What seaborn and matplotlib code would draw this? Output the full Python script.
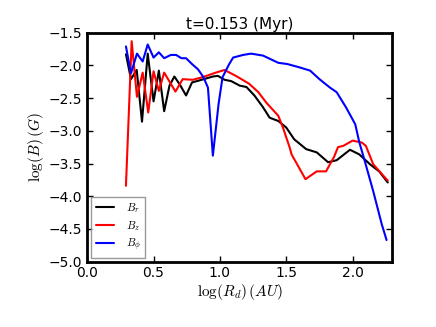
import pandas as pd
import numpy as np
import matplotlib
matplotlib.use("Agg")
import matplotlib.pyplot as plt
import seaborn as sns

sns.set_style("ticks", {"axes.edgecolor": "black", "text.color": "black",
                        "axes.labelcolor": "black", "xtick.color": "black",
                        "ytick.color": "black"})
plt.rcParams["font.family"] = ["DejaVu Sans"]
plt.rcParams["mathtext.fontset"] = "cm"
plt.rcParams["xtick.direction"] = "in"
plt.rcParams["ytick.direction"] = "in"

# values
br_x = [0.292, 0.33, 0.373, 0.413, 0.456, 0.50, 0.54, 0.58, 0.62, 0.657, 0.70, 0.745,
        0.79, 0.845, 0.896, 0.947, 0.985, 1.035, 1.085, 1.15, 1.20, 1.26, 1.325, 1.375,
        1.44, 1.50, 1.56, 1.65, 1.73, 1.815, 1.88, 1.98, 2.05, 2.13, 2.20, 2.265]
br_y = [-1.83, -2.21, -2.07, -2.86, -1.82, -2.55, -2.08, -2.70, -2.31, -2.17, -2.30, -2.46,
        -2.26, -2.23, -2.20, -2.17, -2.16, -2.22, -2.24, -2.31, -2.33, -2.46, -2.64, -2.80,
        -2.85, -2.95, -3.13, -3.28, -3.33, -3.48, -3.45, -3.29, -3.36, -3.51, -3.62, -3.79]

bz_x = [0.292, 0.335, 0.375, 0.418, 0.46, 0.50, 0.54, 0.58, 0.665, 0.72, 0.795, 0.87,
        0.97, 1.035, 1.12, 1.22, 1.29, 1.35, 1.44, 1.475, 1.525, 1.54, 1.645, 1.73,
        1.80, 1.86, 1.89, 1.93, 2.0, 2.07, 2.10, 2.155, 2.255, 2.265]
bz_y = [-3.84, -1.63, -2.48, -2.11, -2.72, -2.09, -2.39, -2.11, -2.40, -2.21, -2.22, -2.18,
        -2.11, -2.07, -2.16, -2.28, -2.41, -2.57, -2.77, -2.95, -3.25, -3.36, -3.74, -3.62,
        -3.62, -3.40, -3.25, -3.23, -3.15, -3.18, -3.23, -3.51, -3.74, -3.76]

bphi_x = [0.292, 0.33, 0.375, 0.418, 0.456, 0.50, 0.54, 0.58, 0.63, 0.67, 0.71, 0.745,
          0.79, 0.835, 0.876, 0.91, 0.947, 0.99, 1.02, 1.07, 1.10, 1.175, 1.235, 1.325,
          1.44, 1.51, 1.60, 1.68, 1.75, 1.83, 1.88, 1.95, 2.02, 2.05, 2.09, 2.155,
          2.22, 2.256]
bphi_y = [-1.71, -2.12, -1.82, -1.94, -1.68, -1.88, -1.80, -1.89, -1.84, -1.84, -1.89, -1.89,
          -1.98, -2.06, -2.18, -2.34, -3.38, -2.59, -2.18, -1.98, -1.88, -1.84, -1.82, -1.85,
          -1.96, -1.98, -2.03, -2.08, -2.21, -2.34, -2.41, -2.64, -2.90, -3.17, -3.45, -3.92,
          -4.43, -4.67]

labels = [r"$B_r$", r"$B_z$", r"$B_\phi$"]
colors = ["black", "red", "blue"]

fig, ax = plt.subplots(figsize=(4.36, 3.27), dpi=100)
fig.subplots_adjust(left=0.2, right=0.9, bottom=0.2, top=0.9)

for xs, ys, lab, c in zip([br_x, bz_x, bphi_x], [br_y, bz_y, bphi_y], labels, colors):
    df = pd.DataFrame({"x": xs, "y": ys})
    sns.lineplot(data=df, x="x", y="y", sort=False, color=c, lw=1.5, label=lab, ax=ax)

ax.set_xlim(0, 2.3)
ax.set_ylim(-5.0, -1.5)
ax.set_xticks(np.arange(0, 2.01, 0.5))
ax.set_yticks(np.arange(-5.0, -1.49, 0.5))
ax.tick_params(top=True, right=True, labelsize=10, length=4, width=1)
for s in ax.spines.values():
    s.set_linewidth(2)

ax.set_title("t=0.153 (Myr)", fontsize=11, pad=3)
ax.set_xlabel(r"$\log(R_d)\,(AU)$", fontsize=11, labelpad=1)
ax.set_ylabel(r"$\log(B)\,(G)$", fontsize=11, labelpad=2)

leg = ax.legend(loc="lower left", fontsize=8, fancybox=False, handlelength=1.7,
                labelspacing=0.35, borderaxespad=0.35, handletextpad=1.0)
leg.get_frame().set_edgecolor("grey")
leg.get_frame().set_linewidth(1)

fig.savefig("out.png", dpi=100)
